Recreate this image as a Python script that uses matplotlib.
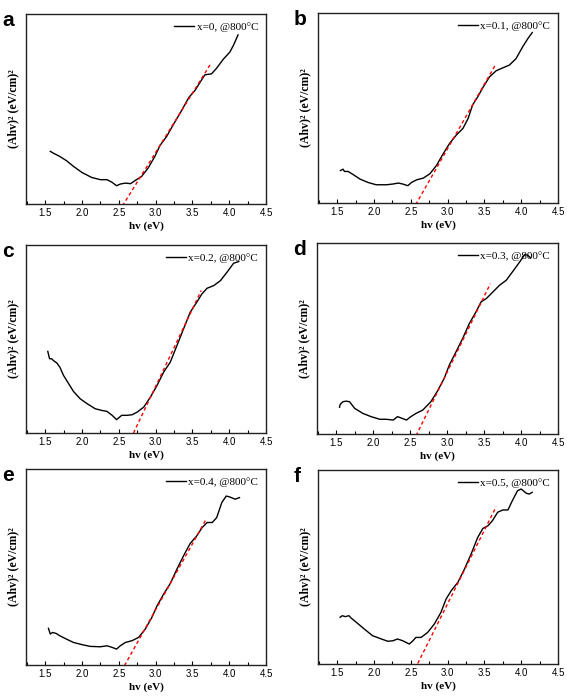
import matplotlib
matplotlib.use("Agg")
import matplotlib.pyplot as plt
from matplotlib.ticker import MultipleLocator

# Tauc plots, x = 0 ... 0.5, annealed at 800 C (normalised y, arbitrary units)
labels = ["x=0, @800°C", "x=0.1, @800°C", "x=0.2, @800°C",
          "x=0.3, @800°C", "x=0.4, @800°C", "x=0.5, @800°C"]
letters = ["a", "b", "c", "d", "e", "f"]

ev_a = [1.57, 1.61, 1.70, 1.79, 1.885, 2.0, 2.13, 2.25, 2.34, 2.41, 2.47, 2.52, 2.59, 2.66,
        2.72, 2.81, 2.9, 2.99, 3.06, 3.15, 3.24, 3.36, 3.45, 3.54, 3.61, 3.67, 3.76, 3.83,
        3.92, 4.01, 4.06, 4.12]
ab_a = [0.277, 0.268, 0.25, 0.228, 0.198, 0.166, 0.14, 0.128, 0.128, 0.114, 0.096, 0.105,
        0.11, 0.107, 0.123, 0.145, 0.19, 0.25, 0.308, 0.355, 0.417, 0.496, 0.56, 0.60,
        0.644, 0.68, 0.685, 0.715, 0.762, 0.80, 0.837, 0.89]

ev_b = [1.545, 1.58, 1.60, 1.65, 1.72, 1.81, 1.92, 2.03, 2.17, 2.26, 2.33, 2.39, 2.46, 2.51,
        2.58, 2.67, 2.76, 2.85, 2.94, 3.03, 3.12, 3.21, 3.28, 3.34, 3.41, 3.48, 3.57, 3.66,
        3.73, 3.84, 3.93, 4.02, 4.09, 4.15]
ab_b = [0.171, 0.178, 0.166, 0.166, 0.149, 0.126, 0.108, 0.096, 0.096, 0.10, 0.105, 0.10,
        0.091, 0.108, 0.122, 0.131, 0.154, 0.198, 0.259, 0.315, 0.358, 0.393, 0.446, 0.516,
        0.559, 0.608, 0.664, 0.696, 0.708, 0.726, 0.76, 0.822, 0.865, 0.897]

ev_c = [1.536, 1.56, 1.59, 1.61, 1.66, 1.70, 1.75, 1.82, 1.885, 1.976, 2.07, 2.18, 2.27,
        2.34, 2.41, 2.47, 2.54, 2.61, 2.68, 2.75, 2.84, 2.93, 3.02, 3.11, 3.2, 3.29, 3.38,
        3.47, 3.56, 3.63, 3.70, 3.79, 3.88, 3.97, 4.06, 4.13]
ab_c = [0.434, 0.395, 0.395, 0.386, 0.372, 0.35, 0.306, 0.262, 0.221, 0.182, 0.156, 0.129,
        0.12, 0.115, 0.094, 0.071, 0.094, 0.094, 0.097, 0.111, 0.138, 0.191, 0.253, 0.324,
        0.377, 0.465, 0.554, 0.642, 0.696, 0.74, 0.77, 0.784, 0.81, 0.855, 0.903, 0.912]

ev_d = [1.545, 1.554, 1.59, 1.635, 1.68, 1.75, 1.86, 1.97, 2.09, 2.18, 2.27, 2.33, 2.39, 2.45,
        2.51, 2.58, 2.67, 2.78, 2.87, 2.96, 3.03, 3.12, 3.21, 3.30, 3.39, 3.46, 3.53, 3.62,
        3.71, 3.80, 3.89, 3.98, 4.05, 4.09, 4.13]
ab_d = [0.14, 0.155, 0.169, 0.172, 0.169, 0.134, 0.108, 0.091, 0.077, 0.077, 0.073, 0.091,
        0.082, 0.073, 0.091, 0.108, 0.125, 0.169, 0.225, 0.291, 0.361, 0.43, 0.5, 0.578,
        0.639, 0.692, 0.709, 0.744, 0.779, 0.805, 0.852, 0.90, 0.939, 0.936, 0.922]

ev_e = [1.545, 1.57, 1.60, 1.65, 1.70, 1.79, 1.885, 2.0, 2.11, 2.25, 2.34, 2.41, 2.47, 2.52,
        2.59, 2.68, 2.77, 2.86, 2.95, 3.02, 3.11, 3.2, 3.29, 3.38, 3.47, 3.56, 3.63, 3.70,
        3.77, 3.83, 3.90, 3.96, 4.01, 4.08, 4.14]
ab_e = [0.187, 0.158, 0.166, 0.161, 0.149, 0.132, 0.115, 0.104, 0.095, 0.093, 0.098, 0.09,
        0.081, 0.098, 0.115, 0.124, 0.141, 0.183, 0.243, 0.302, 0.362, 0.416, 0.489, 0.557,
        0.62, 0.659, 0.70, 0.727, 0.727, 0.752, 0.829, 0.862, 0.857, 0.846, 0.854]

ev_f = [1.54, 1.57, 1.61, 1.66, 1.69, 1.76, 1.87, 1.98, 2.10, 2.19, 2.26, 2.32, 2.39, 2.48,
        2.53, 2.57, 2.64, 2.73, 2.82, 2.91, 2.98, 3.05, 3.14, 3.23, 3.32, 3.41, 3.48, 3.55,
        3.61, 3.68, 3.75, 3.82, 3.88, 3.95, 4.0, 4.07, 4.11, 4.15]
ab_f = [0.241, 0.249, 0.244, 0.249, 0.237, 0.215, 0.18, 0.146, 0.129, 0.117, 0.12, 0.129,
        0.12, 0.103, 0.12, 0.137, 0.137, 0.163, 0.206, 0.266, 0.335, 0.378, 0.421, 0.49,
        0.567, 0.653, 0.699, 0.713, 0.739, 0.782, 0.794, 0.794, 0.842, 0.893, 0.902, 0.88,
        0.876, 0.885]

# linear fits (end points of the red tangent lines)
fit_x = [[2.55, 3.76], [2.566, 3.66], [2.70, 3.62], [2.58, 3.585], [2.578, 3.68], [2.595, 3.66]]
fit_y = [[-0.01, 0.745], [-0.009, 0.734], [0.0, 0.758], [-0.009, 0.787], [-0.003, 0.739], [0.003, 0.811]]

energies = [ev_a, ev_b, ev_c, ev_d, ev_e, ev_f]
absorb = [ab_a, ab_b, ab_c, ab_d, ab_e, ab_f]

W, H = 567, 696
fig = plt.figure(figsize=(W / 100, H / 100), dpi=100)

# pixel boxes of the axes: (left, top, right, bottom)
boxes = [(26, 14, 266, 204), (318, 13, 558, 203),
         (26, 245, 266, 433), (317, 243, 558, 434),
         (26, 469, 266, 665), (318, 470, 558, 664)]

serif = "Liberation Serif"
sans = "Liberation Sans"

for i in range(6):
    l, t, r, b = boxes[i]
    ax = fig.add_axes([l / W, 1 - b / H, (r - l) / W, (b - t) / H])
    ax.plot(energies[i], absorb[i], color="black", lw=1.0, label=labels[i])
    ax.plot(fit_x[i], fit_y[i], color="red", lw=1.0, ls=(0, (2.5, 2)))
    ax.set_xlim(1.24, 4.5)
    ax.set_ylim(0, 1)
    ax.set_yticks([])
    ax.xaxis.set_major_locator(MultipleLocator(0.5))
    ax.xaxis.set_minor_locator(MultipleLocator(0.25))
    ax.tick_params(axis="x", which="major", direction="in", length=3, width=0.8,
                   labelsize=7, pad=3)
    ax.tick_params(axis="x", which="minor", direction="in", length=2, width=0.8)
    for lab in ax.get_xticklabels():
        lab.set_fontfamily(sans)
    for s in ax.spines.values():
        s.set_linewidth(1.0)
        s.set_color("#222222")
    ax.set_xlabel("hv (eV)", fontfamily=serif, fontweight="bold", fontsize=8, labelpad=2)
    ax.set_ylabel("(Ahv)² (eV/cm)²", fontfamily=serif, fontweight="bold", fontsize=8.5,
                  labelpad=5)
    ax.legend(loc="upper right", frameon=False, handlelength=1.8, handletextpad=0.25,
              borderaxespad=0.3, prop={"family": serif, "size": 8})
    fig.text((l - 24) / W, 1 - (t - 3) / H, letters[i], fontfamily=sans,
             fontweight="bold", fontsize=15, va="top", ha="left")

fig.savefig("out.png", dpi=100)
